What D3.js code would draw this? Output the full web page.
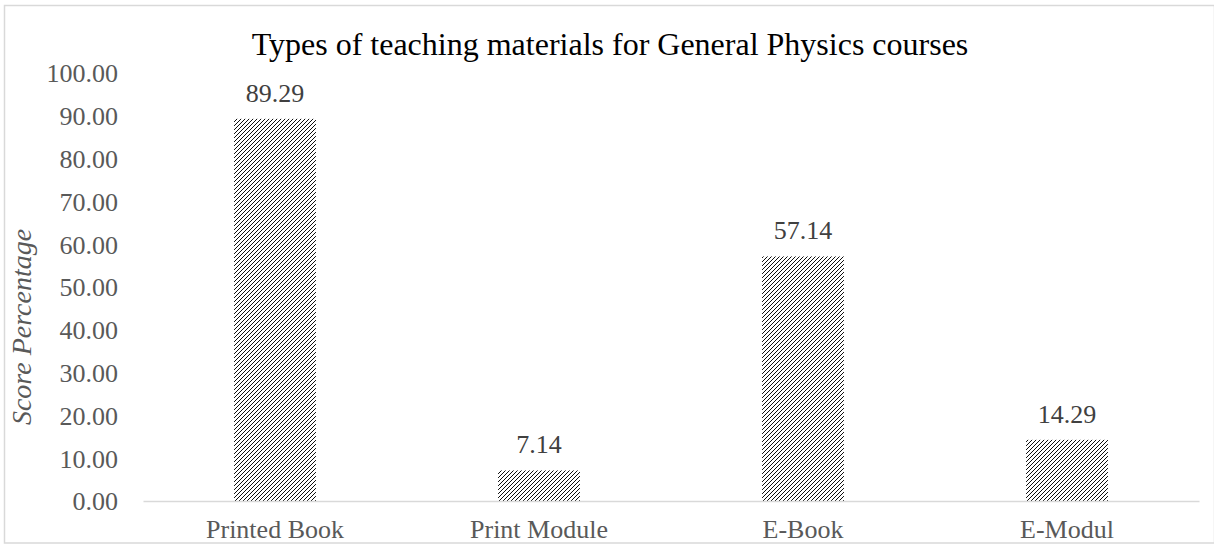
<!DOCTYPE html>
<html>
<head>
<meta charset="utf-8">
<script src="https://cdn.jsdelivr.net/npm/d3@7/dist/d3.min.js"></script>
<style>
  html, body { margin: 0; padding: 0; background: #fff; }
  svg { display: block; }
  text { font-family: "Liberation Serif", "Times New Roman", serif; }
</style>
</head>
<body>
<svg id="chart" width="1214" height="544"></svg>
<script>
const categories = ["Printed Book", "Print Module", "E-Book", "E-Modul"];
const values = [89.29, 7.14, 57.14, 14.29];
const yTicks = [0, 10, 20, 30, 40, 50, 60, 70, 80, 90, 100];
const titleText = "Types of teaching materials for General Physics courses";
const yAxisTitle = "Score Percentage";

const svg = d3.select("#chart");
const plot = { left: 143, right: 1199, top: 73, bottom: 501 };

// chart border
svg.append("rect")
  .attr("x", 4.5).attr("y", 5.5)
  .attr("width", 1210).attr("height", 537.5)
  .attr("fill", "none").attr("stroke", "#d9d9d9").attr("stroke-width", 1.5);

// pattern
const defs = svg.append("defs");
const pat = defs.append("pattern")
  .attr("id", "diag")
  .attr("patternUnits", "userSpaceOnUse")
  .attr("width", 4).attr("height", 4);
pat.append("rect").attr("width", 4).attr("height", 4).attr("fill", "#fff");
pat.append("path")
  .attr("d", "M-1,1 l2,-2 M0,4 l4,-4 M3,5 l2,-2")
  .attr("stroke", "#000").attr("stroke-width", 0.95);

const x = d3.scaleBand().domain(categories).range([plot.left, plot.right]).padding(0);
const y = d3.scaleLinear().domain([0, 100]).range([plot.bottom, plot.top]);
const barW = x.bandwidth() * 0.31;

// title
svg.append("text")
  .attr("x", 610).attr("y", 55)
  .attr("text-anchor", "middle")
  .attr("font-size", 32)
  .attr("fill", "#000")
  .text(titleText);

// y axis tick labels
const yAxis = d3.axisLeft(y).tickValues(yTicks).tickFormat(d3.format(".2f")).tickSize(0).tickPadding(0);
const gy = svg.append("g").attr("transform", `translate(118,0)`).call(yAxis);
gy.attr("font-family", null).attr("font-size", null);
gy.select(".domain").remove();
gy.selectAll("text")
  .attr("font-size", 26)
  .attr("fill", "#595959")
  .attr("dy", "0.34em");

// y axis title
svg.append("text")
  .attr("transform", "translate(31,327) rotate(-90)")
  .attr("text-anchor", "middle")
  .attr("font-size", 28)
  .attr("font-style", "italic")
  .attr("fill", "#595959")
  .text(yAxisTitle);

// bars
svg.append("g").selectAll("rect")
  .data(values)
  .join("rect")
  .attr("x", (d, i) => x(categories[i]) + x.bandwidth() / 2 - barW / 2)
  .attr("y", d => y(d))
  .attr("width", barW)
  .attr("height", d => y(0) - y(d))
  .attr("fill", "url(#diag)");

// value labels
svg.append("g").selectAll("text")
  .data(values)
  .join("text")
  .attr("x", (d, i) => x(categories[i]) + x.bandwidth() / 2)
  .attr("y", d => y(d) - 17)
  .attr("text-anchor", "middle")
  .attr("font-size", 26)
  .attr("fill", "#404040")
  .text(d => d.toFixed(2));

// x axis
const xAxis = d3.axisBottom(x).tickSize(0).tickPadding(0);
const gx = svg.append("g").attr("transform", `translate(0,${plot.bottom})`).call(xAxis);
gx.attr("font-family", null).attr("font-size", null);
gx.select(".domain").attr("stroke", "#d9d9d9").attr("stroke-width", 1.5);
gx.selectAll("text")
  .attr("font-size", 26)
  .attr("fill", "#595959")
  .attr("dy", null)
  .attr("y", 37);
</script>
</body>
</html>
